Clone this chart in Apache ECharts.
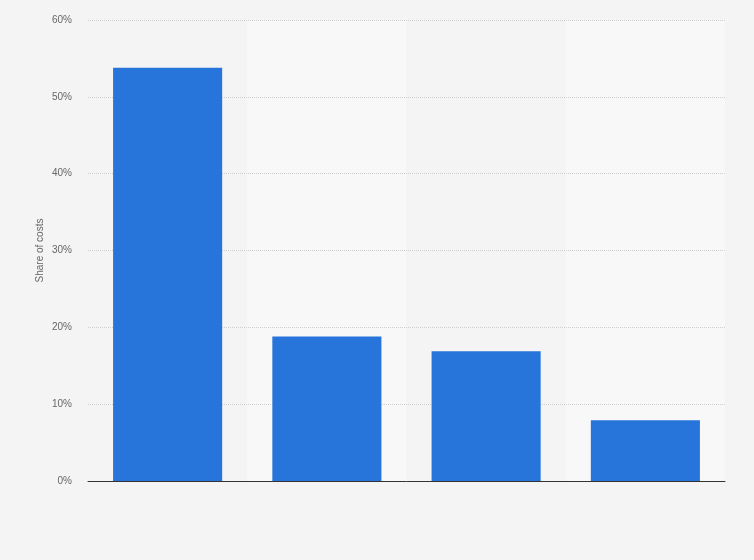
<!DOCTYPE html>
<html>
<head>
<meta charset="utf-8">
<script src="https://cdn.jsdelivr.net/npm/echarts@6/dist/echarts.min.js"></script>
<style>
  html, body { margin: 0; padding: 0; background: #f4f4f4; }
  #chart { width: 754px; height: 560px; }
</style>
</head>
<body>
<div id="chart"></div>
<script>
// categories are not labelled in the source picture
var categories = ['Category 1', 'Category 2', 'Category 3', 'Category 4'];
var shareOfCosts = [53.8, 18.8, 16.9, 7.9];
var yTicks = [0, 10, 20, 30, 40, 50, 60];

var chart = echarts.init(document.getElementById('chart'));
chart.setOption({
    backgroundColor: '#f4f4f4',
    animation: false,
    grid: { left: 88, right: 29, top: 20, bottom: 79 },
    xAxis: {
        type: 'category',
        data: categories,
        z: 0,
        axisLine: { lineStyle: { color: '#333', width: 1 } },
        axisTick: { show: false },
        axisLabel: { show: false },
        splitArea: { show: true, areaStyle: { color: ['rgba(0,0,0,0)', '#f8f8f8'] } }
    },
    yAxis: {
        type: 'value',
        z: 1,
        min: yTicks[0],
        max: yTicks[yTicks.length - 1],
        interval: 10,
        name: 'Share of costs',
        nameLocation: 'middle',
        nameGap: 43,
        nameMoveOverlap: false,
        nameTextStyle: { color: '#666', fontSize: 10, fontFamily: 'Arial' },
        axisLine: { show: false },
        axisTick: { show: false },
        axisLabel: {
            color: '#666', fontSize: 10, fontFamily: 'Arial', margin: 16,
            formatter: '{value}%'
        },
        splitLine: { showMinLine: false, lineStyle: { color: '#cfcfcf', type: [1, 1], width: 1 } }
    },
    series: [{
        type: 'bar',
        z: 2,
        data: shareOfCosts,
        barWidth: '68.5%',
        itemStyle: { color: '#2775db' }
    }]
});
</script>
</body>
</html>
